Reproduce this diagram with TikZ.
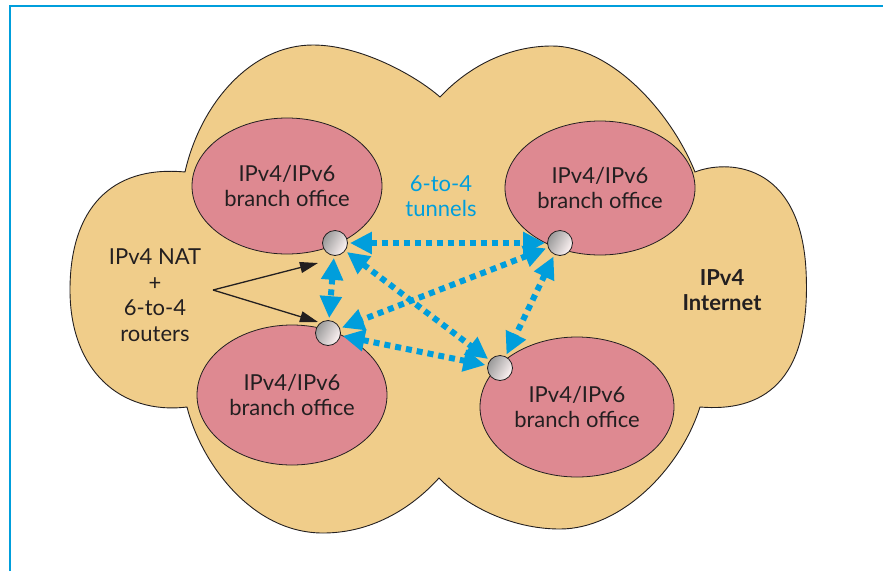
\documentclass[tikz,border=0pt]{standalone}
\usepackage{fontspec}
\setmainfont{Lato}
\usetikzlibrary{shapes.geometric,arrows.meta}
\definecolor{awan}{RGB}{240,205,138}
\definecolor{merahmuda}{RGB}{222,137,145}
\definecolor{biru}{RGB}{0,158,220}
\definecolor{teks}{RGB}{35,31,32}
\begin{document}
\begin{tikzpicture}[x=1pt,y=-1pt,font=\fontsize{22}{25.5}\selectfont,text=teks,
    kantor/.style={ellipse,draw=teks,line width=0.8pt,fill=merahmuda,align=center,inner sep=0pt},
    router/.style={circle,draw=teks,line width=0.8pt,minimum size=25pt,inner sep=0pt,
        left color=gray!80,right color=red!4,shading angle=60},
    tunnel/.style={biru,line width=6pt,dash pattern=on 6pt off 5pt,
        {Triangle[length=22pt,width=21pt]}-{Triangle[length=22pt,width=21pt]},
        shorten <=2pt,shorten >=2pt},
    penunjuk/.style={teks,line width=1.3pt,-{Triangle[length=18pt,width=11pt]}}]
    \useasboundingbox (0,0) rectangle (883,571);

    % Bingkai
    \draw[biru,line width=2.5pt] (10,571) -- (10,6) -- (883,6);

    % Awan IPv4
    \draw[teks,line width=0.9pt,fill=awan]
        (185,172) .. controls (200,105) and (250,45) .. (313,45)
        .. controls (360,45) and (415,75) .. (440,97)
        .. controls (470,65) and (510,46) .. (552,46)
        .. controls (610,46) and (670,110) .. (695,172)
        .. controls (725,160) and (800,160) .. (806,270)
        .. controls (812,385) and (760,412) .. (700,407)
        .. controls (680,470) and (620,529) .. (560,529)
        .. controls (510,529) and (465,505) .. (439,478)
        .. controls (410,510) and (370,533) .. (323,533)
        .. controls (250,533) and (200,460) .. (187,407)
        .. controls (120,415) and (70,370) .. (70,290)
        .. controls (70,210) and (110,165) .. (185,172) -- cycle;

    % Kantor cabang
    \node[kantor,minimum width=190pt,minimum height=136pt] (kantorA) at (287,186) {IPv4/IPv6\\branch office};
    \node[kantor,minimum width=190pt,minimum height=134pt] (kantorB) at (600,188) {IPv4/IPv6\\branch office};
    \node[kantor,minimum width=190pt,minimum height=140pt] (kantorC) at (292,395) {IPv4/IPv6\\branch office};
    \node[kantor,minimum width=194pt,minimum height=140pt] (kantorD) at (577,407) {IPv4/IPv6\\branch office};

    % Router
    \node[router] (rA) at (335,243) {};
    \node[router] (rB) at (560,243) {};
    \node[router] (rC) at (328,333) {};
    \node[router] (rD) at (500,368) {};

    % Terowongan 6-to-4
    \draw[tunnel] (rA) -- (rB);
    \draw[tunnel] (rA) -- (rC);
    \draw[tunnel] (rA) -- (rD);
    \draw[tunnel] (rB) -- (rC);
    \draw[tunnel] (rB) -- (rD);
    \draw[tunnel] (rC) -- (rD);

    % Label
    \node[align=center] (nat) at (155,295) {IPv4 NAT\\+\\6-to-4\\routers};
    \node[align=center,text=biru] (lbltunnel) at (441,196) {6-to-4\\tunnels};
    \node[align=center,font=\fontsize{22}{25.5}\selectfont\bfseries] (internet) at (722,290) {IPv4\\Internet};

    % Panah ke router
    \coordinate (cabang) at (213,290);
    \coordinate (ujungA) at (318,263);
    \coordinate (ujungC) at (318,322);
    \draw[penunjuk] (cabang) -- (ujungA);
    \draw[penunjuk] (cabang) -- (ujungC);
\end{tikzpicture}
\end{document}
